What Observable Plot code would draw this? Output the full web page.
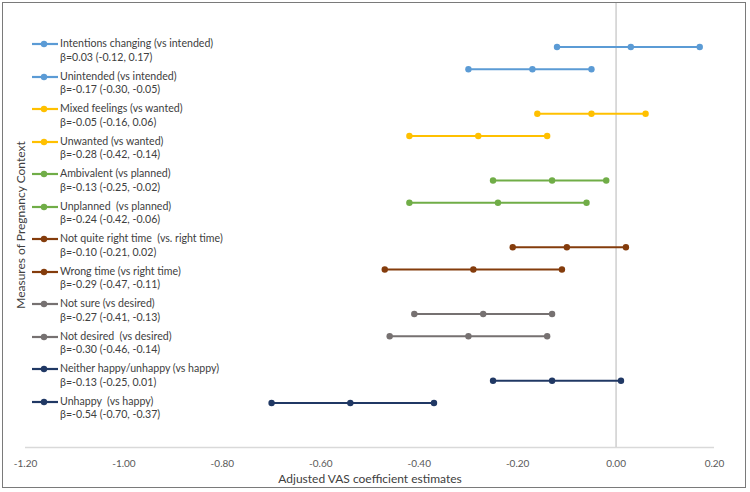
<!DOCTYPE html>
<html>
<head>
<meta charset="utf-8">
<script src="https://cdn.jsdelivr.net/npm/d3@7"></script>
<script src="https://cdn.jsdelivr.net/npm/@observablehq/plot@0.6"></script>
<style>
  html, body { margin: 0; padding: 0; background: #fff; }
  #wrap { position: relative; width: 750px; height: 492px; font-family: Lato, "Open Sans", sans-serif; }
  #frame { position: absolute; left: 2px; top: 2px; width: 744px; height: 486px; border: 1px solid #7a7a7a; box-sizing: border-box; pointer-events: none; }
  #legend { position: absolute; left: 32px; top: 37px; }
  .entry { height: 32.5px; display: flex; align-items: flex-start; }
  .entry svg { flex: none; margin-top: 2px; }
  .txt { font-size: 10.6px; line-height: 13.5px; color: #404040; margin-left: 1px; white-space: pre; }
  #ylab { position: absolute; left: 20px; top: 225px; transform: translate(-50%, -50%) rotate(-90deg); font-size: 12px; color: #404040; white-space: nowrap; }
</style>
</head>
<body>
<div id="wrap">
  <div id="chart"></div>
  <div id="legend"></div>
  <div id="ylab">Measures of Pregnancy Context</div>
  <div id="frame"></div>
</div>
<script>
const labels = [
  "Intentions changing (vs intended)",
  "Unintended (vs intended)",
  "Mixed feelings (vs wanted)",
  "Unwanted (vs wanted)",
  "Ambivalent (vs planned)",
  "Unplanned  (vs planned)",
  "Not quite right time  (vs. right time)",
  "Wrong time (vs right time)",
  "Not sure (vs desired)",
  "Not desired  (vs desired)",
  "Neither happy/unhappy (vs happy)",
  "Unhappy  (vs happy)"
];
const estimates = [0.03, -0.17, -0.05, -0.28, -0.13, -0.24, -0.10, -0.29, -0.27, -0.30, -0.13, -0.54];
const lower     = [-0.12, -0.30, -0.16, -0.42, -0.25, -0.42, -0.21, -0.47, -0.41, -0.46, -0.25, -0.70];
const upper     = [0.17, -0.05, 0.06, -0.14, -0.02, -0.06, 0.02, -0.11, -0.13, -0.14, 0.01, -0.37];
const colors = ["#5B9BD5", "#5B9BD5", "#FFC000", "#FFC000", "#70AD47", "#70AD47",
                "#843C0C", "#843C0C", "#767171", "#767171", "#203864", "#203864"];
const xTicks = [-1.2, -1.0, -0.8, -0.6, -0.4, -0.2, 0, 0.2];

const fmt = v => v.toFixed(2);
const rows = labels.map((label, i) => ({
  label,
  est: estimates[i], lo: lower[i], hi: upper[i],
  color: colors[i],
  pos: i + Math.floor(i / 2),
  beta: `β=${fmt(estimates[i])} (${fmt(lower[i])}, ${fmt(upper[i])})`
}));
const pts = rows.flatMap(r => [r.lo, r.est, r.hi].map(x => ({x, pos: r.pos, color: r.color})));

const chart = Plot.plot({
  width: 750,
  height: 492,
  marginLeft: 25,
  marginRight: 36,
  marginTop: 2,
  marginBottom: 45,
  style: { fontFamily: "Lato, 'Open Sans', sans-serif", background: "transparent" },
  x: { domain: [-1.2, 0.2], ticks: xTicks, tickFormat: fmt },
  y: { domain: [-2, 18], reverse: true, axis: null },
  marks: [
    Plot.ruleY([18], { stroke: "#d9d9d9", strokeWidth: 1.5 }),
    Plot.ruleX([0], { stroke: "#cfcfcf", strokeWidth: 1.5 }),
    Plot.axisX({ ticks: xTicks, tickFormat: fmt, tickSize: 0, tickPadding: 12, fontSize: 10, color: "#595959", label: null }),
    Plot.text(["Adjusted VAS coefficient estimates"], { frameAnchor: "bottom", dy: 35, fontSize: 12, fill: "#404040" }),
    Plot.link(rows, { x1: "lo", x2: "hi", y1: "pos", y2: "pos", stroke: "color", strokeWidth: 2.2 }),
    Plot.dot(pts, { x: "x", y: "pos", r: 3.2, fill: "color", stroke: null })
  ]
});
document.getElementById("chart").appendChild(chart);

const legend = d3.select("#legend");
rows.forEach(r => {
  const e = legend.append("div").attr("class", "entry");
  const s = e.append("svg").attr("width", 27).attr("height", 10);
  s.append("line").attr("x1", 0).attr("x2", 26).attr("y1", 5).attr("y2", 5).attr("stroke", r.color).attr("stroke-width", 2.2);
  s.append("circle").attr("cx", 12).attr("cy", 5).attr("r", 3.2).attr("fill", r.color);
  const t = e.append("div").attr("class", "txt");
  t.append("div").text(r.label);
  t.append("div").text(r.beta);
});
</script>
</body>
</html>
